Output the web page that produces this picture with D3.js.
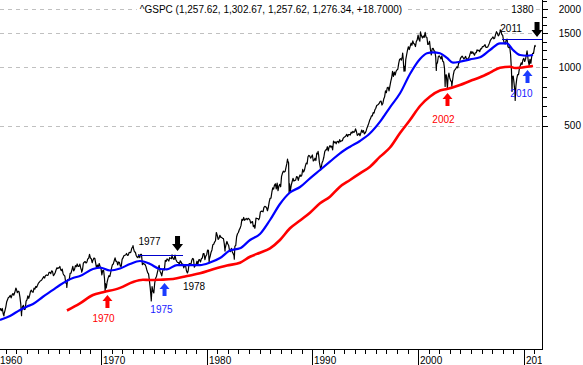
<!DOCTYPE html>
<html><head><meta charset="utf-8">
<script src="https://cdn.jsdelivr.net/npm/d3@7"></script>
<style>
html,body{margin:0;padding:0;background:#fff;}
svg{display:block;font-family:"Liberation Sans",Arial,sans-serif;}
</style></head><body>
<svg id="chart" width="583" height="365"></svg>
<script>
// ---------------- data ----------------
const chartTitle = "^GSPC (1,257.62, 1,302.67, 1,257.62, 1,276.34, +18.7000)";
const firstYear = 1960;
// month-end closes, Jan 1960 .. Dec 2010
const monthlyCloses = [
55.61,56.12,55.34,54.37,55.83,56.92,55.51,56.96,53.52,53.39,55.54,58.11,
61.78,63.44,65.06,65.31,66.56,64.64,66.76,68.07,66.73,68.62,71.32,71.55,
68.84,69.96,69.55,65.24,59.63,54.75,58.23,59.12,56.27,56.52,62.26,63.10,
66.20,64.29,66.57,69.80,70.80,69.37,69.13,72.50,71.70,74.01,73.23,75.02,
77.04,77.80,78.98,79.46,80.37,81.69,83.18,81.83,84.18,84.86,84.42,84.75,
87.56,87.43,86.16,89.11,88.42,84.12,85.25,87.17,89.96,92.42,91.61,92.43,
92.88,91.22,89.23,91.06,86.13,84.74,83.60,77.10,76.56,80.20,80.45,80.33,
86.61,86.78,90.20,94.01,89.08,90.64,94.75,93.64,96.71,93.90,94.00,96.47,
92.24,89.36,90.20,97.59,98.68,99.58,97.74,98.86,102.67,103.41,108.37,103.86,
103.01,98.13,101.51,103.69,103.46,97.71,91.83,95.51,93.12,97.24,93.81,92.06,
85.02,89.50,89.63,81.52,76.55,72.72,78.05,81.52,84.21,83.25,87.20,92.15,
95.88,96.75,100.31,103.95,99.63,99.70,95.58,99.03,98.34,94.23,93.99,102.09,
103.94,106.57,107.20,107.67,109.53,107.14,107.39,111.09,110.55,111.58,116.67,118.05,
116.03,111.68,111.52,106.97,104.95,104.26,108.22,104.25,108.43,108.29,95.96,97.55,
96.57,96.22,93.98,90.31,87.28,86.00,79.31,72.15,63.54,73.90,69.97,68.56,
76.98,81.59,83.36,87.30,91.15,95.19,88.75,86.88,83.87,89.04,91.24,90.19,
100.86,99.71,102.77,101.64,100.18,104.28,103.44,102.91,105.24,102.90,102.10,107.46,
102.03,99.82,98.42,98.44,96.12,100.48,98.85,96.77,96.53,92.34,94.83,95.10,
89.25,87.04,89.21,96.83,97.24,95.53,100.68,103.29,102.54,93.15,94.70,96.11,
99.93,96.28,101.59,101.76,99.08,102.91,103.81,109.32,109.32,101.82,106.16,107.94,
114.16,113.66,102.09,106.29,111.24,114.24,121.67,122.38,125.46,127.47,140.52,135.76,
129.55,131.27,136.00,132.81,132.59,131.21,130.92,122.79,116.18,121.89,126.35,122.55,
120.40,113.11,111.96,116.44,111.88,109.61,107.09,119.51,120.42,133.71,138.54,140.64,
145.30,148.06,152.96,164.42,162.39,168.11,162.56,164.40,166.07,163.55,166.40,164.93,
163.41,157.06,159.18,160.05,150.55,153.18,150.66,166.68,166.10,166.09,163.58,167.24,
179.63,181.18,180.66,179.83,189.55,191.85,190.92,188.63,182.08,189.82,202.17,211.28,
211.78,226.92,238.90,235.52,247.35,250.84,236.12,252.93,231.32,243.98,249.22,242.17,
274.08,284.20,291.70,288.36,290.10,304.00,318.66,329.80,321.83,251.79,230.30,247.08,
257.07,267.82,258.89,261.33,262.16,273.50,272.02,261.52,271.91,278.97,273.70,277.72,
297.47,288.86,294.87,309.64,320.52,317.98,346.08,351.45,349.15,340.36,345.99,353.40,
329.08,331.89,339.94,330.80,361.23,358.02,356.15,322.56,306.05,304.00,322.22,330.22,
343.93,367.07,375.22,375.35,389.83,371.16,387.81,395.43,387.86,392.46,375.22,417.09,
408.79,412.70,403.69,414.95,415.35,408.14,424.21,414.03,417.80,418.68,431.35,435.71,
438.78,443.38,451.67,440.19,450.19,450.53,448.13,463.56,458.93,467.83,461.79,466.45,
481.61,467.14,445.77,450.91,456.50,444.27,458.26,475.49,462.69,472.35,453.69,459.27,
470.42,487.39,500.71,514.71,533.40,544.75,562.06,561.88,584.41,581.50,605.37,615.93,
636.02,640.43,645.50,654.17,669.12,670.63,639.95,651.99,687.33,705.27,757.02,740.74,
786.16,790.82,757.12,801.34,848.28,885.14,954.31,899.47,947.28,914.62,955.40,970.43,
980.28,1049.34,1101.75,1111.75,1090.82,1133.84,1120.67,957.28,1017.01,1098.67,1163.63,1229.23,
1279.64,1238.33,1286.37,1335.18,1301.84,1372.71,1328.72,1320.41,1282.71,1362.93,1388.91,1469.25,
1394.46,1366.42,1498.58,1452.43,1420.60,1454.60,1430.83,1517.68,1436.51,1429.40,1314.95,1320.28,
1366.01,1239.94,1160.33,1249.46,1255.82,1224.38,1211.23,1133.58,1040.94,1059.78,1139.45,1148.08,
1130.20,1106.73,1147.39,1076.92,1067.14,989.82,911.62,916.07,815.28,885.76,936.31,879.82,
855.70,841.15,848.18,916.92,963.59,974.50,990.31,1008.01,995.97,1050.71,1058.20,1111.92,
1131.13,1144.94,1126.21,1107.30,1120.68,1140.84,1101.72,1104.24,1114.58,1130.20,1173.82,1211.92,
1181.27,1203.60,1180.59,1156.85,1191.50,1191.33,1234.18,1220.33,1228.81,1207.01,1249.48,1248.29,
1280.08,1280.66,1294.83,1310.61,1270.09,1270.20,1276.66,1303.82,1335.85,1377.94,1400.63,1418.30,
1438.24,1406.82,1420.86,1482.37,1530.62,1503.35,1455.27,1473.99,1526.75,1549.38,1481.14,1468.36,
1378.55,1330.63,1322.70,1385.59,1400.38,1280.00,1267.38,1282.83,1166.36,968.75,896.24,903.25,
825.88,735.09,797.87,872.81,919.14,919.32,987.48,1020.62,1057.08,1036.19,1095.63,1115.10,
1073.87,1104.49,1169.43,1186.69,1089.41,1030.71,1101.60,1049.33,1141.20,1183.26,1180.55,1257.64
];
// intramonth turning points and the last days of the series
const extremeDates = ["1960-10-25","1961-12-12","1962-06-26","1966-02-09","1966-10-07","1968-03-05","1970-05-26","1973-01-11","1974-10-03","1976-09-21","1978-03-06","1980-03-27","1980-11-28","1981-09-25","1982-08-12","1984-07-24","1987-08-25","1987-10-19","1990-07-16","1990-10-11","1998-07-17","1998-10-08","2000-03-24","2000-09-01","2001-09-21","2002-07-23","2002-10-09","2003-03-11","2007-10-09","2008-11-20","2009-03-09","2010-04-23","2010-07-02","2011-01-14","2011-01-26","2011-01-28"];
const extremeValues = [52.20,72.64,52.32,94.06,73.20,87.72,69.29,120.24,62.28,107.83,86.90,98.22,140.52,112.77,102.42,147.82,336.77,224.84,368.95,295.46,1186.75,959.44,1527.46,1520.77,965.80,797.70,776.76,800.73,1565.15,752.44,676.53,1217.28,1022.58,1293.24,1299.54,1276.34];

// blue smoothed line
const blueYears = [1960.44,1961.39,1962.34,1962.97,1963.57,1964.51,1965.46,1966.12,1967.35,1968.01,1969.24,1969.91,1970.85,1971.80,1972.74,1973.69,1974.64,1975.58,1976.24,1977.19,1978.14,1979.37,1980.31,1981.26,1982.20,1983.15,1984.10,1985.04,1985.99,1986.93,1987.88,1988.83,1989.77,1990.72,1991.66,1992.61,1993.56,1994.50,1995.45,1996.40,1997.34,1998.29,1999.23,2000.18,2000.84,2001.41,2002.07,2002.73,2003.30,2003.96,2004.91,2005.86,2006.80,2007.75,2008.41,2008.98,2009.64,2010.30,2010.87];
const blueValues = [49.7,52.1,56.0,58.2,60.1,65.5,71.0,75.3,81.9,83.8,91.1,92.7,89.5,91.6,96.7,100.2,96.7,91.1,90.8,95.5,95.5,95.5,98.4,103.8,113.5,116.5,128.6,138.1,163.1,197.3,226.2,241.5,267.8,295.6,326.2,360.5,389.9,417.3,457.2,525.0,623.0,735.8,925.7,1106,1184,1198,1184,1122,1059,1071,1102,1129,1231,1333,1333,1231,1160,1150,1160];

// red smoothed line
const redYears = [1966.78,1968.01,1969.24,1970.19,1971.80,1973.03,1973.97,1974.64,1975.58,1976.81,1978.14,1979.37,1980.60,1981.92,1983.15,1984.10,1985.04,1985.99,1986.93,1987.88,1988.83,1989.77,1990.72,1991.66,1992.61,1993.56,1994.50,1995.45,1996.40,1997.34,1998.29,1999.23,2000.18,2001.13,2002.07,2002.73,2003.96,2004.91,2005.86,2006.80,2007.75,2008.70,2009.17,2009.64,2010.87];
const redValues = [55.6,60.5,66.9,69.1,72.8,78.1,80.2,79.9,80.2,80.9,83.8,86.6,90.8,95.0,98.2,105.4,110.6,116.5,128.6,147.8,162.2,177.9,199.0,215.2,242.4,262.4,284.2,307.4,346.3,386.2,458.8,535.7,632.7,708.3,760.7,774.4,812.2,851.7,890.1,940.0,997.6,1009.6,994,997.6,1018];

// axes
const yMajorTicks = [500,1000,1500,2000];
const yMinorDivisions = [6,4,3];
const decadeTicks = [1960,1970,1980,1990,2000,2010];

// annotations
const arrowYears  = [1970.61,2002.78,1976.01,2010.35,1977.24,2011.25];
const arrowValues = [66.9,738.4,77.1,970.7,112.8,1437];
const arrowDirs   = ["up","up","up","up","down","down"];
const arrowColors = ["#ff0000","#ff0000","#1a3cff","#1a3cff","#000000","#000000"];
const labelTexts  = ["1970","1975","1977","1978","2002","2010","2011","1380"];
const labelYears  = [1970.24,1975.72,1974.59,1978.80,2002.40,2009.78,2008.79,2009.87];
const labelValues = [50.3,56.6,125.6,74.4,535.7,729.7,1599,1981];
const labelColors = ["#ff0000","#1a1aff","#000000","#000000","#ff0000","#1a1aff","#000000","#000000"];
const levelFrom   = [1973.50,2007.94];
const levelTo     = [1977.76,2011.72];
const levelValues = [107.8,1403];

// ---------------- chart ----------------
const W = 583, H = 365, plotW = 542, plotH = 349;
const svg = d3.select("#chart");
const x = d3.scaleLinear().domain([1960.445, 2011.72]).range([0, plotW]);
const y = d3.scaleLog().domain([35.19, 2231]).range([plotH, 0]);

function dateToYear(s){
  const [yy,mm,dd] = s.split("-").map(Number);
  const start = Date.UTC(yy,0,1), end = Date.UTC(yy+1,0,1);
  return yy + (Date.UTC(yy,mm-1,dd) - start)/(end-start);
}
let price = monthlyCloses.map((v,i)=>({t: firstYear + (i+0.97)/12, v}));
extremeDates.forEach((d,i)=>price.push({t: dateToYear(d), v: extremeValues[i]}));
price.sort((a,b)=>a.t-b.t);
const blue = blueYears.map((t,i)=>({t, v: blueValues[i]}));
const red  = redYears.map((t,i)=>({t, v: redValues[i]}));

svg.append("rect").attr("width",W).attr("height",H).attr("fill","#fff");
const defs = svg.append("defs");
defs.append("clipPath").attr("id","clip")
  .append("rect").attr("x",0).attr("y",0).attr("width",plotW).attr("height",plotH);
defs.append("clipPath").attr("id","clipx")
  .append("rect").attr("x",0).attr("y",plotH).attr("width",plotW).attr("height",H-plotH);

// gridlines
svg.append("g").selectAll("line").data(yMajorTicks).join("line")
  .attr("x1",0).attr("x2",plotW)
  .attr("y1",d=>Math.round(y(d))+0.5).attr("y2",d=>Math.round(y(d))+0.5)
  .attr("stroke","#c0c0c0").attr("stroke-dasharray","4,4");

const plot = svg.append("g").attr("clip-path","url(#clip)");
const line = d3.line().x(d=>x(d.t)).y(d=>y(d.v));
plot.append("path").datum(price).attr("d",line)
  .attr("fill","none").attr("stroke","#000").attr("stroke-width",1.2).attr("stroke-linejoin","round");
const smooth = d3.line().x(d=>x(d.t)).y(d=>y(d.v)).curve(d3.curveMonotoneX);
plot.append("path").datum(blue).attr("d",smooth)
  .attr("fill","none").attr("stroke","#0000ff").attr("stroke-width",2.2);
plot.append("path").datum(red).attr("d",smooth)
  .attr("fill","none").attr("stroke","#ff0000").attr("stroke-width",2.6);

// level lines
plot.append("g").selectAll("line").data(levelValues).join("line")
  .attr("x1",(d,i)=>x(levelFrom[i])).attr("x2",(d,i)=>x(levelTo[i]))
  .attr("y1",d=>Math.round(y(d))+0.5).attr("y2",d=>Math.round(y(d))+0.5)
  .attr("stroke","#0000cc").attr("stroke-width",1);

// arrows
const upPath = "M0,0 L5,6 L2,6 L2,13 L-2,13 L-2,6 L-5,6 Z";
const downPath = "M0,0 L-5.5,-7 L-2.5,-7 L-2.5,-15 L2.5,-15 L2.5,-7 L5.5,-7 Z";
svg.append("g").selectAll("path").data(arrowYears).join("path")
  .attr("transform",(d,i)=>`translate(${x(d)},${y(arrowValues[i])})`)
  .attr("d",(d,i)=>arrowDirs[i]==="up"?upPath:downPath)
  .attr("fill",(d,i)=>arrowColors[i]);

// labels
const lg = svg.append("g").attr("font-size",10);
labelTexts.forEach((txt,i)=>{
  const g = lg.append("g");
  const t = g.append("text").attr("x",x(labelYears[i])).attr("y",y(labelValues[i]))
    .attr("dy","0.35em").attr("text-anchor","middle").attr("fill",labelColors[i]).text(txt);
  if (txt==="1380"){
    const b = t.node().getBBox();
    g.insert("rect","text").attr("x",b.x-1).attr("y",b.y).attr("width",b.width+2).attr("height",b.height).attr("fill","#fff");
  }
});

// title
const tg = svg.append("g");
const tt = tg.append("text").attr("x",plotW/2).attr("y",y(2000)).attr("dy","0.35em")
  .attr("text-anchor","middle").attr("font-size",10).attr("fill","#000").text(chartTitle);
const tb = tt.node().getBBox();
tg.insert("rect","text").attr("x",tb.x-3).attr("y",tb.y).attr("width",tb.width+6).attr("height",tb.height).attr("fill","#fff");

// right axis
const ra = svg.append("g").attr("shape-rendering","crispEdges");
ra.append("line").attr("x1",plotW+0.5).attr("x2",plotW+0.5).attr("y1",0).attr("y2",plotH+1).attr("stroke","#000");
const minorVals = [];
yMajorTicks.forEach((a,i)=>{
  if (i < yMajorTicks.length-1){
    const b = yMajorTicks[i+1], n = yMinorDivisions[i];
    for (let k=1;k<n;k++) minorVals.push(a*Math.pow(b/a,k/n));
  }
});
{ const a = yMajorTicks[2], b = yMajorTicks[3], n = yMinorDivisions[2];
  minorVals.push(b*Math.pow(b/a,1/n)); }
ra.selectAll(".mn").data(minorVals).join("line").attr("class","mn")
  .attr("x1",plotW).attr("x2",plotW+5)
  .attr("y1",d=>Math.round(y(d))+0.5).attr("y2",d=>Math.round(y(d))+0.5).attr("stroke","#000");
ra.selectAll(".mj").data(yMajorTicks).join("line").attr("class","mj")
  .attr("x1",plotW).attr("x2",plotW+6)
  .attr("y1",d=>Math.round(y(d))+0.5).attr("y2",d=>Math.round(y(d))+0.5).attr("stroke","#000");
svg.append("g").selectAll("text").data(yMajorTicks).join("text")
  .attr("x",581).attr("y",d=>y(d)).attr("dy","0.35em").attr("text-anchor","end")
  .attr("font-size",10).text(d=>d);

// bottom axis
const ba = svg.append("g").attr("shape-rendering","crispEdges");
ba.append("line").attr("x1",0).attr("x2",plotW+1).attr("y1",plotH+0.5).attr("y2",plotH+0.5).attr("stroke","#000");
const years = d3.range(1960, 2012);
ba.selectAll(".yt").data(years).join("line").attr("class","yt")
  .attr("x1",d=>Math.round(x(d))+0.5).attr("x2",d=>Math.round(x(d))+0.5)
  .attr("y1",plotH).attr("y2",d=>decadeTicks.includes(d)?H:plotH+5).attr("stroke","#000");
svg.append("g").attr("clip-path","url(#clipx)").selectAll("text").data(decadeTicks).join("text")
  .attr("x",d=>Math.max(0, Math.round(x(d))+2)).attr("y",363.5)
  .attr("font-size",10).text(d=>d);
</script>
</body></html>
